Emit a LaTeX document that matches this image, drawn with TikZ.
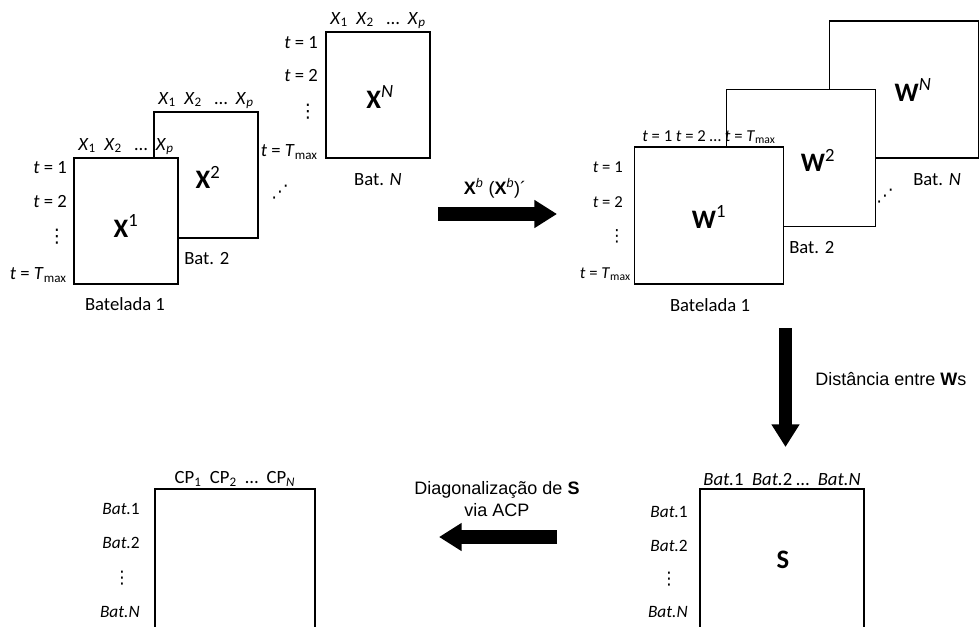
\documentclass[tikz,border=0pt]{standalone}
\usepackage{fontspec}
\setmainfont{Carlito}
\newfontfamily\arialfont{Liberation Sans}
\newfontfamily\dotsfont{DejaVu Sans}
\usetikzlibrary{arrows.meta,positioning}

\newcommand{\tval}[1]{\textit{t} = #1}
\newcommand{\tmx}{\textit{t} = \textit{T}\textsubscript{max}}
\newcommand{\xv}[1]{\textit{X}\textsubscript{#1}}
\newcommand{\vd}{{\dotsfont ⋮}}

\begin{document}
\begin{tikzpicture}[x=0.75pt, y=-0.75pt,
  mat/.style={rectangle, draw, line width=1.1pt, fill=white, inner sep=0pt},
  xmat/.style={mat, minimum width=78pt, minimum height=94.5pt},
  wmat/.style={mat, minimum width=111.5pt, minimum height=103pt},
  big/.style={font=\fontsize{20}{22}\selectfont\bfseries},
  hdr/.style={font=\fontsize{14}{16}\selectfont, inner sep=1.5pt, anchor=south},
  smallhdr/.style={font=\fontsize{12.5}{14}\selectfont, inner sep=1.5pt, anchor=south},
  rowlab/.style={font=\fontsize{13}{15}\selectfont, inner sep=0pt},
  tlab/.style={font=\fontsize{14}{16}\selectfont, inner sep=0pt},
  smallrow/.style={font=\fontsize{12.5}{14}\selectfont, inner sep=0pt},
  caplab/.style={font=\fontsize{14}{16}\selectfont, inner sep=0pt},
  sans/.style={font=\arialfont\fontsize{13.5}{16}\selectfont, inner sep=0pt},
  blockarrow/.style={line width=11pt, -{Triangle[length=17pt, width=20pt]}}
]
\useasboundingbox (0,0) rectangle (980,626);
\clip (0,0) rectangle (980,626);

% batch data matrices
\node[xmat] (xN) at (378,95) {};
\node[xmat] (x2) at (206,175) {};
\node[xmat] (x1) at (126,221) {};

\node[big] (lx1) at (126,226) {X\textsuperscript{\mdseries 1}};
\node[big] (lx2) at (208,177) {X\textsuperscript{\mdseries 2}};
\node[big] (lxN) at (380,97) {X\textsuperscript{\mdseries\itshape N}};

\node[hdr] (hx1) at (x1.north) {\xv{1}\ \ \xv{2}\ \ \ \dots\ \ \xv{\textit{p}}};
\node[hdr] (hx2) at (x2.north) {\xv{1}\ \ \xv{2}\ \ \ \dots\ \ \xv{\textit{p}}};
\node[hdr] (hxN) at (xN.north) {\xv{1}\ \ \xv{2}\ \ \ \dots\ \ \xv{\textit{p}}};

\foreach \yy/\txt in {168/\tval{1}, 202/\tval{2}, 275/\tmx}
  \node[tlab, anchor=east] at (67,\yy) {\txt};
\node[tlab] at (57,237) {\vd};
\foreach \yy/\txt in {43/\tval{1}, 76/\tval{2}, 152/\tmx}
  \node[tlab, anchor=east] at (318,\yy) {\txt};
\node[tlab] at (308,112) {\vd};

\node[caplab] (bx1) at (125,304) {Batelada 1};
\node[caplab, anchor=west] (bx2) at (184,259) {Bat. 2};
\node[caplab] (bxN) at (378,180) {Bat. \textit{N}};
\node[rowlab] (dx) at (280,192) {{\dotsfont ⋰}};

% arrow to the W matrices
\coordinate (ra1) at (438,214);
\coordinate (ra2) at (557,214);
\draw[blockarrow] (ra1) -- (ra2);
\node[sans] (lra) at (495,188) {\textbf{X}\textsuperscript{\textit{b}} (\textbf{X}\textsuperscript{\textit{b}})´};

% batch W matrices
\node[wmat] (wN) at (904,89.5) {};
\node[wmat] (w2) at (801,158) {};
\node[wmat] (w1) at (709,215.5) {};

\node[big] (lw1) at (709,217) {W\textsuperscript{\mdseries 1}};
\node[big] (lw2) at (818,160) {W\textsuperscript{\mdseries 2}};
\node[big] (lwN) at (913,90) {W\textsuperscript{\mdseries\itshape N}};

\node[smallhdr] (hw1) at (w1.north) {\tval{1}\ \tval{2}\ \dots\ \tmx};
\foreach \yy/\txt in {167/\tval{1}, 202/\tval{2}}
  \node[smallrow, anchor=east] at (623,\yy) {\txt};
\node[smallrow, anchor=east] at (631,274) {\tmx};
\node[smallrow] at (617,236) {\vd};

\node[caplab] (bw1) at (710,305) {Batelada 1};
\node[caplab, anchor=west] (bw2) at (789,248) {Bat. 2};
\node[caplab, anchor=west] (bwN) at (913,180) {Bat. \textit{N}};
\node[rowlab] (dw) at (885,196) {{\dotsfont ⋰}};

% arrow to S
\coordinate (da1) at (785.5,328);
\coordinate (da2) at (785.5,447);
\draw[blockarrow, line width=9.75pt] (da1) -- (da2);
\node[sans, anchor=west] (lda) at (815,379) {Distância entre \textbf{W}s};

% similarity matrix
\node[mat, minimum width=123pt, minimum height=135pt] (sm) at (782,579) {};
\node[big] (ls) at (783,560) {S};
\node[hdr] (hs) at (sm.north) {\textit{Bat.}1\ \ \textit{Bat.}2\ \dots\ \ \textit{Bat.N}};
\foreach \yy/\txt in {512/\textit{Bat.}1, 546/\textit{Bat.}2, 612/\textit{Bat.N}}
  \node[rowlab, anchor=east] at (688,\yy) {\txt};
\node[rowlab] at (669,579) {\vd};

% arrow to the principal components
\coordinate (la1) at (557,537);
\coordinate (la2) at (439,537);
\draw[blockarrow, line width=10.5pt] (la1) -- (la2);
\node[sans, align=center] (lla) at (497,499) {Diagonalização de \textbf{S}\\via ACP};

% principal components
\node[mat, minimum width=120pt, minimum height=135pt] (pc) at (235,579) {};
\node[hdr] (hpc) at (pc.north) {CP\textsubscript{1}\ \ CP\textsubscript{2}\ \ \dots\ \ CP\textsubscript{\textit{N}}};
\foreach \yy/\txt in {509/\textit{Bat.}1, 543/\textit{Bat.}2, 612/\textit{Bat.N}}
  \node[rowlab, anchor=east] at (140,\yy) {\txt};
\node[rowlab] at (122,578) {\vd};
\end{tikzpicture}
\end{document}
